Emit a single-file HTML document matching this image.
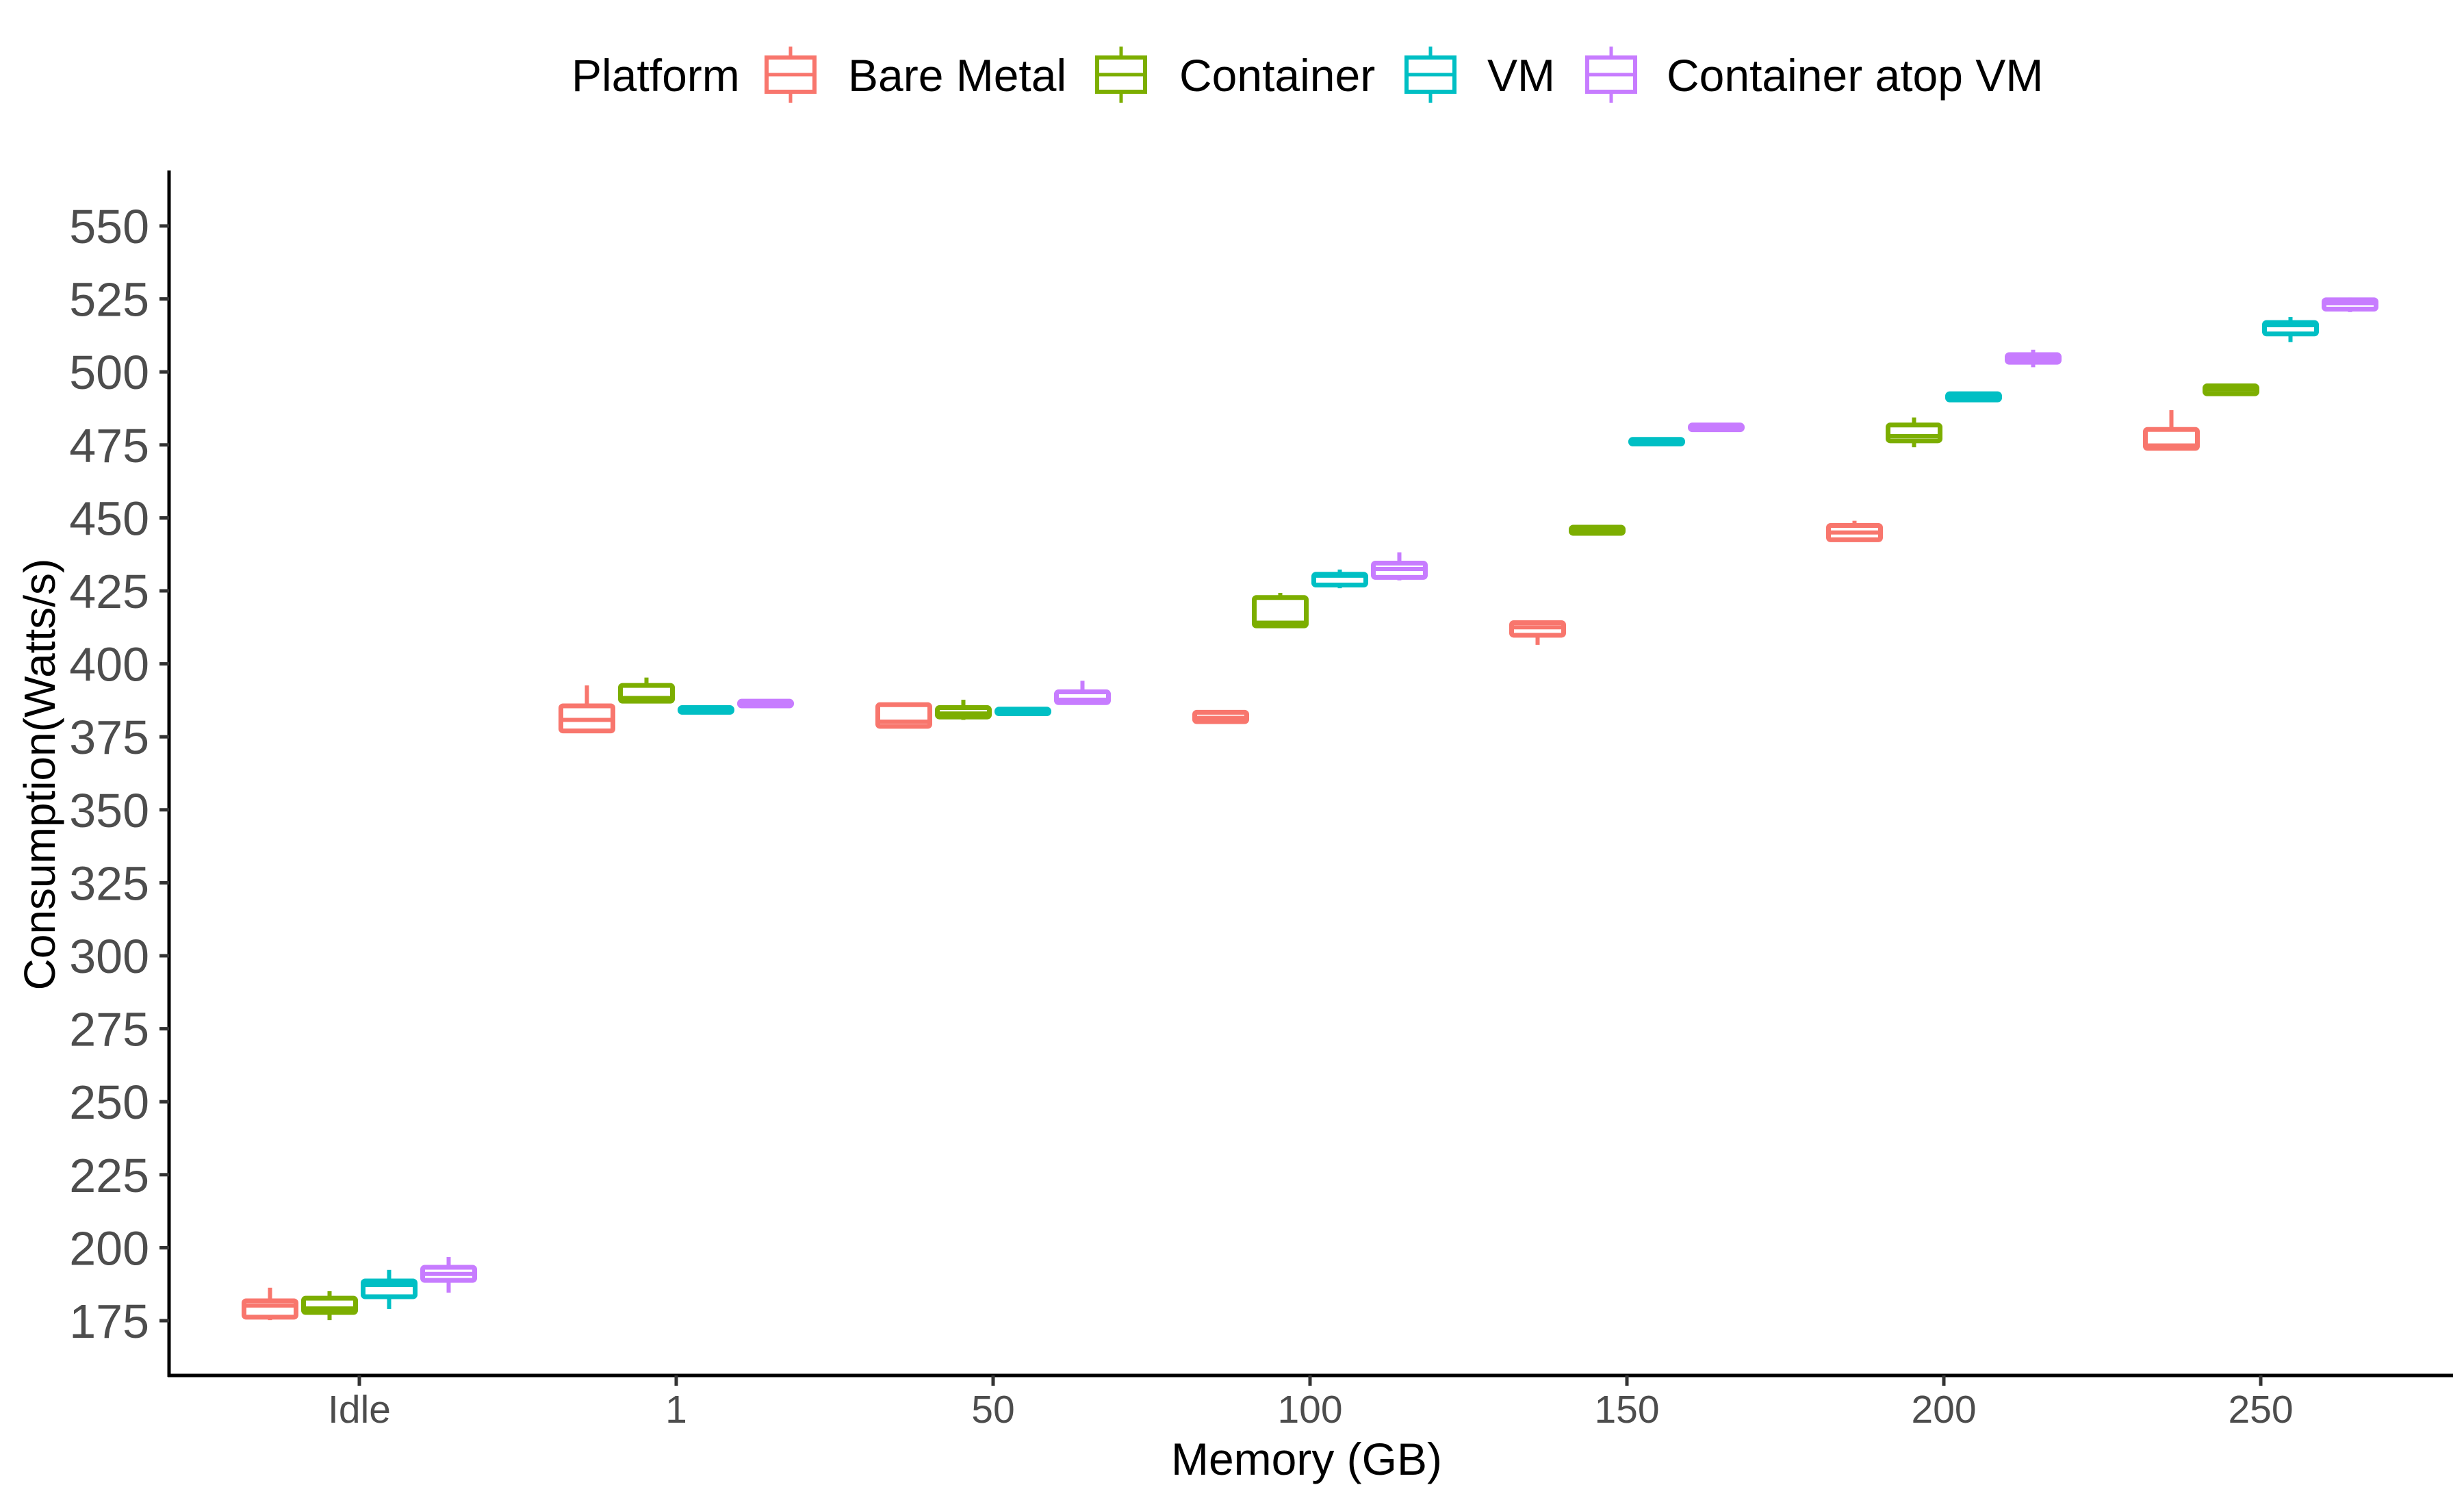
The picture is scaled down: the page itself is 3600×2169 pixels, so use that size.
<!DOCTYPE html>
<html><head><meta charset="utf-8"><style>
html,body{margin:0;padding:0;background:#fff;}
svg{display:block;font-family:"Liberation Sans",Arial,sans-serif;}
</style></head><body>
<svg id="chart" width="3600" height="2169" viewBox="0 0 3600 2169" xmlns="http://www.w3.org/2000/svg">
<g id="legend"></g>
<g id="plot"></g>
<g id="axes"></g>
</svg>
<script>
const categories = ["Idle","1","50","100","150","200","250"];
const platforms = ["Bare Metal","Container","VM","Container atop VM"];
const colors = ["#F8766D","#7CAE00","#00BFC4","#C77CFF"];
const yTicks = [175,200,225,250,275,300,325,350,375,400,425,450,475,500,525,550];
// each entry: [whiskerLow, q1, median, q3, whiskerHigh]
const bareMetal = [[175.2,176.2,180.2,181.8,186.3],[376.5,377,380.8,385.6,392.6],[378,378.6,380.2,386,386],[379.8,380.2,381.5,383.4,383.9],[406.5,409.8,412.5,414.1,414.6],[442,442.5,445,447.4,449],[473.3,473.8,474.8,480.3,486.9]];
const container = [[175.2,177.8,179.2,182.7,185.1],[386.7,387.2,388.3,392.6,395.3],[380.8,381.8,383,385,387.7],[412.4,413,414.1,422.7,424.3],[444.2,444.7,445.8,446.8,447.2],[474.2,476.4,478,481.8,484.4],[492.2,492.5,494,495.2,495.8]];
const vm = [[179,183.2,187.2,188.6,192.4],[383.2,383.4,384.2,385,385.2],[382.7,382.9,383.7,384.5,384.7],[425.9,427,430.2,430.7,432.3],[475.1,475.3,476.3,476.9,477.1],[490.2,490.4,491.5,492.5,492.8],[510.2,513,516,516.9,518.8]];
const containerAtopVM = [[184.6,188.8,191,193.3,196.8],[385.4,385.6,386.5,387.2,387.4],[386.7,386.7,387.7,390.4,394.2],[428.6,429.6,432.5,434.5,438.2],[480,480.2,481,481.8,482],[501.6,503.3,504.5,505.9,507.6],[520.5,521.5,523.5,524.7,525.5]];
const series = [bareMetal, container, vm, containerAtopVM];

const NS = "http://www.w3.org/2000/svg";
const X0 = 247, X1 = 3584, Y_TOP = 249, Y_AX = 2009;
const catX = i => 525 + i * 463;
const yPx = v => 1929 - (v - 175) * 4.264;
const dodge = 87, boxW = 83;

function mk(tag, attrs, parent, text){
  const e = document.createElementNS(NS, tag);
  for (const k in attrs) e.setAttribute(k, attrs[k]);
  if (text !== undefined) e.textContent = text;
  parent.appendChild(e);
  return e;
}
const plot = document.getElementById('plot');
const axes = document.getElementById('axes');
const legend = document.getElementById('legend');

series.forEach((s, p) => {
  s.forEach((d, c) => {
    const cx = catX(c) + (p - 1.5) * dodge;
    const g = mk('g', {}, plot);
    
    
    const col = colors[p];
    mk('line', {x1:cx, x2:cx, y1:yPx(d[4]), y2:yPx(d[3]), stroke:col, 'stroke-width':6}, g);
    mk('line', {x1:cx, x2:cx, y1:yPx(d[1]), y2:yPx(d[0]), stroke:col, 'stroke-width':6}, g);
    const top = yPx(d[3]), bot = yPx(d[1]);
    mk('rect', {x:cx - boxW/2 + 3.5, y:top, width:boxW - 7, height:Math.max(bot - top, 0.5), fill:'#fff', stroke:col, 'stroke-width':7, rx:3}, g);
    mk('line', {x1:cx - boxW/2 + 3.5, x2:cx + boxW/2 - 3.5, y1:yPx(d[2]), y2:yPx(d[2]), stroke:col, 'stroke-width':6}, g);
  });
});

// axes
const yl = mk('line', {x1:X0, x2:X0, y1:Y_TOP, y2:Y_AX+2, stroke:'#000', 'stroke-width':5}, axes);


const xl = mk('line', {x1:X0-2, x2:X1, y1:Y_AX, y2:Y_AX, stroke:'#000', 'stroke-width':5}, axes);


yTicks.forEach(t => {
  const y = yPx(t);
  mk('line', {x1:X0-14, x2:X0, y1:y, y2:y, stroke:'#333', 'stroke-width':5}, axes);
  const tl = mk('text', {x:218, y:y+25, 'text-anchor':'end', 'font-size':70, fill:'#4d4d4d'}, axes, String(t));
  
  
});
categories.forEach((c, i) => {
  const x = catX(i);
  mk('line', {x1:x, x2:x, y1:Y_AX, y2:Y_AX+15, stroke:'#333', 'stroke-width':5}, axes);
  const tl = mk('text', {x:x, y:2078, 'text-anchor':'middle', 'font-size':57, fill:'#4d4d4d'}, axes, c);
  
  
});
const xt = mk('text', {x:1909, y:2154, 'text-anchor':'middle', 'font-size':66, fill:'#000'}, axes, 'Memory (GB)');


const yt = mk('text', {x:0, y:0, transform:'translate(80,1131) rotate(-90)', 'text-anchor':'middle', 'font-size':64, fill:'#000'}, axes, 'Consumption(Watts/s)');



// legend
const lt = mk('text', {x:835, y:133, 'font-size':66, fill:'#000'}, legend, 'Platform');


const keyX = [1117, 1600, 2052, 2316];
const textX = [1239, 1723, 2173, 2435];
platforms.forEach((p, i) => {
  const g = mk('g', {}, legend);
  
  
  const col = colors[i], kx = keyX[i] + 38;
  mk('line', {x1:kx, x2:kx, y1:68, y2:150, stroke:col, 'stroke-width':5}, g);
  mk('rect', {x:kx-35, y:84, width:70, height:50, fill:'#fff', stroke:col, 'stroke-width':6}, g);
  mk('line', {x1:kx-35, x2:kx+35, y1:109, y2:109, stroke:col, 'stroke-width':5}, g);
  mk('text', {x:textX[i], y:133, 'font-size':66, fill:'#000'}, g, p);
});
</script>
</body></html>
